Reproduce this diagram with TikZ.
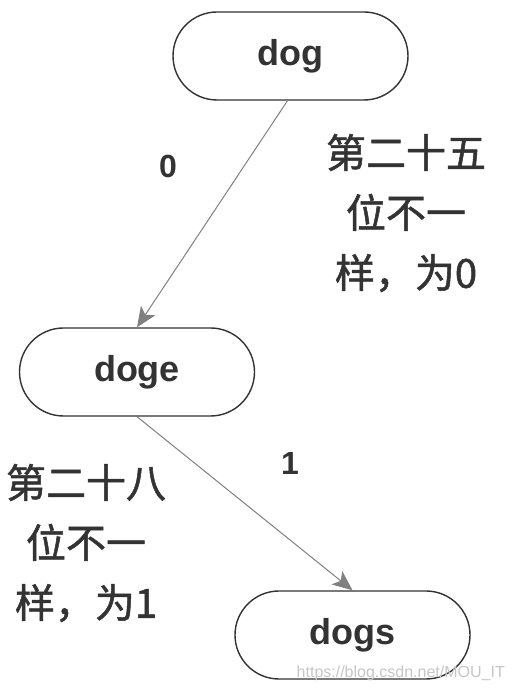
\documentclass[tikz,border=0pt]{standalone}
\usepackage{fontspec}
\setmainfont{Liberation Sans}
\newfontfamily\cjk[FakeBold=1.3]{Noto Sans CJK SC}
\usetikzlibrary{arrows.meta}
\definecolor{nodeline}{HTML}{333333}
\definecolor{edgeline}{HTML}{808080}
\definecolor{txt}{HTML}{333333}
\tikzset{
  pill/.style={draw=nodeline, line width=1.4pt, rounded corners=44pt,
    minimum width=235pt, minimum height=88pt, inner sep=0pt, fill=white,
    font=\fontsize{36}{40}\selectfont\bfseries, text=txt},
  edge/.style={draw=edgeline, line width=1pt,
    -{Stealth[length=20pt,width=17pt,inset=5pt,fill=edgeline]}},
  bitlbl/.style={font=\fontsize{32}{36}\selectfont\bfseries, text=txt, inner sep=0pt},
  cjklbl/.style={font=\cjk\fontsize{40}{60}\selectfont, text=txt, align=center, inner sep=0pt},
  wmark/.style={font=\fontsize{16}{18}\selectfont, text=gray!45, inner sep=0pt}
}
\begin{document}
\begin{tikzpicture}[x=1pt,y=1pt]
\useasboundingbox[fill=white] (0,0) rectangle (516,692);
\node[pill] (dog)  at (290.5,636) {dog};
\node[pill] (doge) at (137,320) {doge};
\node[pill] (dogs) at (352.5,57) {dogs};
\draw[edge] ([xshift=-3pt]dog.south) -- (doge.north);
\draw[edge] (doge.south) -- (dogs.north);
\node[bitlbl] (l0) at (168,526) {0};
\node[cjklbl] (r0) at (406,479) {第二十五\\位不一\\样，为0};
\node[bitlbl] (l1) at (290,229) {1};
\node[cjklbl] (r1) at (86,149) {第二十八\\位不一\\样，为1};
\node[wmark, anchor=east] (wm) at (505,19) {https://blog.csdn.net/MOU\_IT};
\end{tikzpicture}
\end{document}
